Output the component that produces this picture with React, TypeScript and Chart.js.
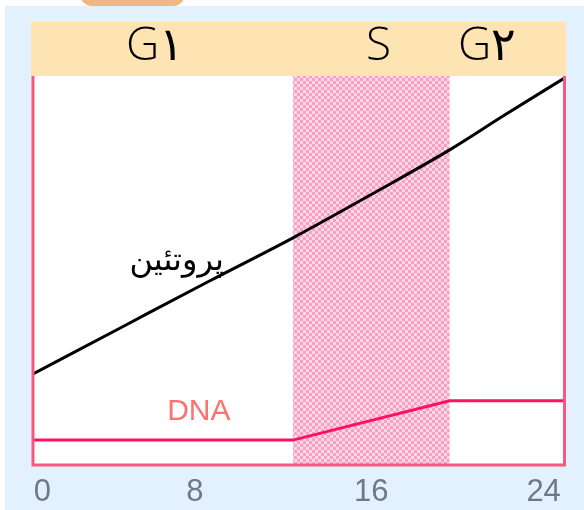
import { useEffect, useRef } from 'react';
import { Chart, registerables } from 'chart.js';

Chart.register(...registerables);

// x in hours (tick scale), y in relative amount (0..100)
const X_MIN = -0.45;
const X_MAX = 25;
const PROTEIN_X = [-0.45, 4, 8, 12, 16, 19.5, 22, 25];
const PROTEIN_Y = [23.4, 36, 47.3, 58.4, 70.3, 81, 89.5, 99.5];
const DNA_X = [-0.45, 12, 19.5, 25];
const DNA_Y = [6.4, 6.4, 16.5, 16.5];
const S_START = 12;
const S_END = 19.5;
const TICK_POS = [0, 7.3, 15.75, 24];
const TICK_LABELS = ['0', '8', '16', '24'];
const PHASE_LABELS = ['G۱', 'S', 'G۲'];
const PHASE_POS = [5.4, 16.1, 21.3];
const PROTEIN_LABEL = 'پروتئین';
const PROTEIN_LABEL_POS = [6.43, 52.2];
const DNA_LABEL = 'DNA';
const DNA_LABEL_POS = [7.49, 13.6];

function makePattern(ctx: CanvasRenderingContext2D) {
  const c = document.createElement('canvas');
  c.width = 6;
  c.height = 6;
  const p = c.getContext('2d')!;
  p.fillStyle = '#ffd6e5';
  p.fillRect(0, 0, 6, 6);
  p.fillStyle = '#f8a0c0';
  p.fillRect(0, 0, 3, 3);
  p.fillRect(3, 3, 3, 3);
  return ctx.createPattern(c, 'repeat')!;
}

const decorPlugin = {
  id: 'decor',
  beforeDraw(chart: any) {
    const { ctx, chartArea: a } = chart;
    ctx.save();
    ctx.fillStyle = '#ffffff';
    ctx.fillRect(0, 0, chart.width, chart.height);
    // orange tab
    ctx.fillStyle = '#f0b785';
    ctx.beginPath();
    ctx.roundRect(80, -20, 105, 26, 12);
    ctx.fill();
    // light blue panel
    ctx.fillStyle = '#e3f0fd';
    ctx.fillRect(5, 6, chart.width - 5, chart.height - 6);
    // header band
    ctx.fillStyle = '#fde4b2';
    ctx.fillRect(31, 22, 535, a.top - 22);
    // plot interior
    ctx.fillStyle = '#ffffff';
    ctx.fillRect(a.left, a.top, a.right - a.left, a.bottom - a.top);
    // phase labels
    const xs = chart.scales.x;
    ctx.fillStyle = '#000000';
    ctx.font = '300 46px "Open Sans", "DejaVu Sans", sans-serif';
    ctx.textAlign = 'center';
    ctx.textBaseline = 'middle';
    PHASE_LABELS.forEach((t, i) => {
      ctx.fillText(t, xs.getPixelForValue(PHASE_POS[i]), 47);
    });
    ctx.restore();
  },
  beforeDatasetsDraw(chart: any) {
    const { ctx, chartArea: a } = chart;
    const xs = chart.scales.x;
    const x0 = xs.getPixelForValue(S_START);
    const x1 = xs.getPixelForValue(S_END);
    ctx.save();
    ctx.fillStyle = makePattern(ctx);
    ctx.fillRect(x0, a.top, x1 - x0, a.bottom - a.top);
    ctx.restore();
  },
  afterDatasetsDraw(chart: any) {
    const { ctx, chartArea: a } = chart;
    const xs = chart.scales.x;
    const ys = chart.scales.y;
    ctx.save();
    ctx.strokeStyle = '#f45a7d';
    ctx.lineWidth = 3;
    ctx.beginPath();
    ctx.moveTo(a.left, a.top);
    ctx.lineTo(a.left, a.bottom);
    ctx.lineTo(a.right, a.bottom);
    ctx.lineTo(a.right, a.top);
    ctx.stroke();
    ctx.textAlign = 'center';
    ctx.textBaseline = 'middle';
    ctx.fillStyle = '#ff7070';
    ctx.font = '30px "Liberation Sans", sans-serif';
    ctx.fillText(DNA_LABEL, xs.getPixelForValue(DNA_LABEL_POS[0]), ys.getPixelForValue(DNA_LABEL_POS[1]));
    ctx.fillStyle = '#000000';
    ctx.font = '32px "DejaVu Sans", sans-serif';
    ctx.fillText(PROTEIN_LABEL, xs.getPixelForValue(PROTEIN_LABEL_POS[0]), ys.getPixelForValue(PROTEIN_LABEL_POS[1]));
    ctx.restore();
  },
};

export default function App() {
  const ref = useRef<HTMLCanvasElement>(null);
  useEffect(() => {
    const chart = new Chart(ref.current!, {
      type: 'line',
      data: {
        datasets: [
          {
            label: 'protein',
            data: PROTEIN_X.map((x, i) => ({ x, y: PROTEIN_Y[i] })),
            borderColor: '#000000',
            borderWidth: 3,
            pointRadius: 0,
            cubicInterpolationMode: 'monotone',
            fill: false,
          },
          {
            label: 'DNA',
            data: DNA_X.map((x, i) => ({ x, y: DNA_Y[i] })),
            borderColor: '#ff1060',
            borderWidth: 3,
            pointRadius: 0,
            tension: 0,
            fill: false,
          },
        ],
      },
      options: {
        animation: false,
        responsive: false,
        layout: { padding: { left: 33, right: 19.5, top: 76, bottom: 0 } },
        plugins: { legend: { display: false }, tooltip: { enabled: false } },
        scales: {
          x: {
            type: 'linear',
            min: X_MIN,
            max: X_MAX,
            grid: { display: false, drawTicks: false },
            border: { display: false },
            afterBuildTicks: (s: any) => {
              s.ticks = TICK_POS.map((v) => ({ value: v }));
            },
            afterFit: (s: any) => {
              s.height = 45;
            },
            ticks: {
              autoSkip: false,
              maxRotation: 0,
              padding: 9,
              color: '#6f7985',
              font: { family: '"Liberation Sans", sans-serif', size: 31 },
              callback: (_v: any, i: number) => TICK_LABELS[i],
            },
          },
          y: {
            display: false,
            min: 0,
            max: 100,
          },
        },
      },
      plugins: [decorPlugin],
    });
    return () => chart.destroy();
  }, []);
  return (
    <div style={{ position: 'fixed', left: 0, top: 0, width: 584, height: 510 }}>
      <canvas ref={ref} width={584} height={510} style={{ display: 'block', width: 584, height: 510 }} />
    </div>
  );
}
